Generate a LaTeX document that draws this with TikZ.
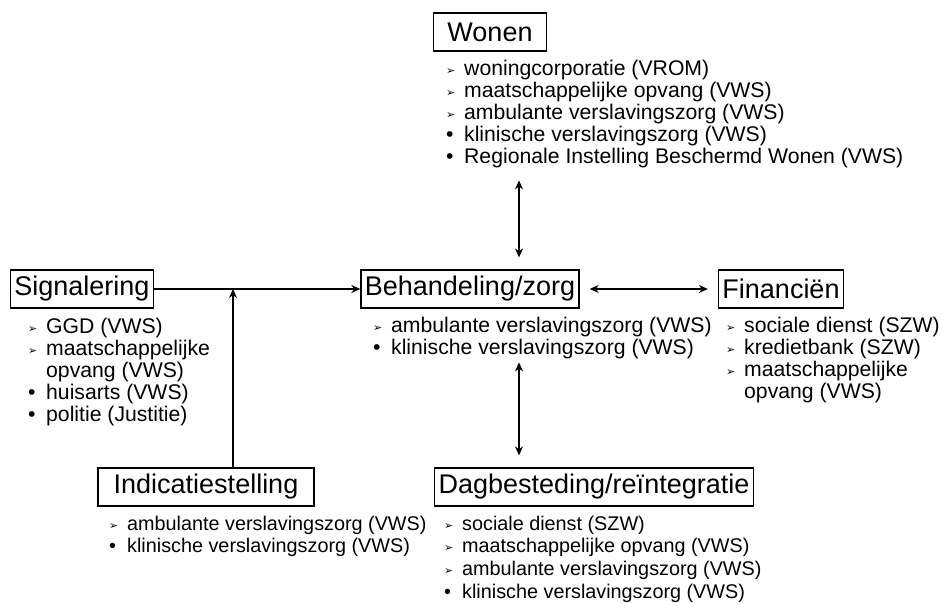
\documentclass[tikz,border=0pt]{standalone}
\usepackage{fontspec}
\setmainfont{Liberation Sans}
\newfontfamily\symfont{DejaVu Sans}
\usetikzlibrary{positioning, arrows.meta}

\newcommand{\arr}{\makebox[18pt][l]{\raisebox{1pt}{\symfont\fontsize{11}{11}\selectfont ➢}}}
\newcommand{\bul}{\makebox[18pt][l]{•}}
\renewcommand{\arraystretch}{1}

\begin{document}
\begin{tikzpicture}
        [x=1pt, y=-1pt,
            every node/.style={inner sep=0pt},
            areabox/.style={draw, line width=1.2pt, font=\fontsize{27}{29}\selectfont, inner xsep=4pt, minimum height=38pt},
            itemlist/.style={anchor=north west, align=left, font=\fontsize{21.2}{22}\selectfont},
            lowlist/.style={itemlist, font=\fontsize{19.8}{22.7}\selectfont},
            oneway/.style={line width=1.2pt, -{Stealth[length=9pt, width=8pt]}},
            twoway/.style={line width=1.2pt, {Stealth[length=9pt, width=8pt]}-{Stealth[length=9pt, width=8pt]}}
        ]
        \useasboundingbox (0,0) rectangle (942,604);
        % boxes
        \node (wonen) [areabox, minimum width=113pt] at (490,32) {Wonen};
        \node (signal) [areabox] at (82,289) {Signalering};
        \node (zorg) [areabox] at (470,289) {Behandeling/zorg};
        \node (fin) [areabox] at (781,289) {Financiën};
        \node (indic) [areabox, minimum width=216pt] at (206,487) {Indicatiestelling};
        \node (dag) [areabox] at (594,487) {Dagbesteding/reïntegratie};
        % lists
        \node (wonenlist) [itemlist] at (446,60) {\begin{tabular}{@{}l@{}l@{}}
            \arr & woningcorporatie (VROM)\\
            \arr & maatschappelijke opvang (VWS)\\
            \arr & ambulante verslavingszorg (VWS)\\
            \bul & klinische verslavingszorg (VWS)\\
            \bul & Regionale Instelling Beschermd Wonen (VWS)
        \end{tabular}};
        \node (signallist) [itemlist] at (28,318) {\begin{tabular}{@{}l@{}l@{}}
            \arr & GGD (VWS)\\
            \arr & maatschappelijke\\
                 & opvang (VWS)\\
            \bul & huisarts (VWS)\\
            \bul & politie (Justitie)
        \end{tabular}};
        \node (zorglist) [itemlist] at (373,317) {\begin{tabular}{@{}l@{}l@{}}
            \arr & ambulante verslavingszorg (VWS)\\
            \bul & klinische verslavingszorg (VWS)
        \end{tabular}};
        \node (finlist) [itemlist] at (726,317) {\begin{tabular}{@{}l@{}l@{}}
            \arr & sociale dienst (SZW)\\
            \arr & kredietbank (SZW)\\
            \arr & maatschappelijke\\
                 & opvang (VWS)
        \end{tabular}};
        \node (indiclist) [lowlist] at (109,514) {\begin{tabular}{@{}l@{}l@{}}
            \arr & ambulante verslavingszorg (VWS)\\
            \bul & klinische verslavingszorg (VWS)
        \end{tabular}};
        \node (daglist) [lowlist] at (444,514) {\begin{tabular}{@{}l@{}l@{}}
            \arr & sociale dienst (SZW)\\
            \arr & maatschappelijke opvang (VWS)\\
            \arr & ambulante verslavingszorg (VWS)\\
            \bul & klinische verslavingszorg (VWS)
        \end{tabular}};
        % connectors
        \coordinate (joint) at (233,289);
        \coordinate (axis) at (519,0);
        \draw[oneway] (signal) -- (zorg);
        \draw[oneway] (indic.north -| joint) -- (joint);
        \draw[twoway] ([yshift=-10pt]wonenlist.south -| axis) -- ([yshift=12pt]zorg.north -| axis);
        \draw[twoway] ([xshift=10pt]zorg.east) -- ([xshift=-10pt]fin.west);
        \draw[twoway] ([yshift=-1pt]zorglist.south -| axis) -- ([yshift=12pt]dag.north -| axis);
\end{tikzpicture}
\end{document}
